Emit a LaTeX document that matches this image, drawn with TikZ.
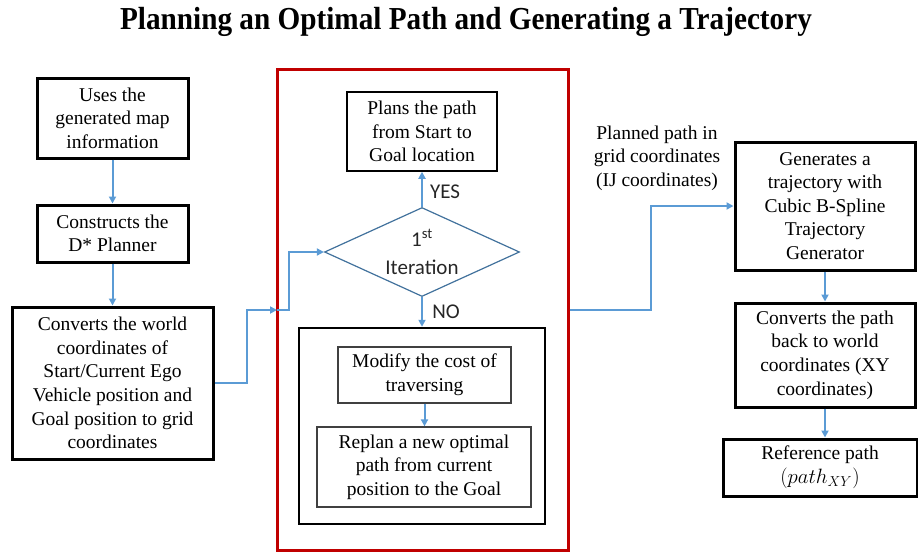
\documentclass[tikz,border=0pt]{standalone}
\usepackage{fontspec}
\setmainfont{Liberation Serif}
\newfontfamily\labelfont{Carlito}
\usetikzlibrary{arrows.meta,shapes.geometric}
\definecolor{flowblue}{HTML}{5B9BD5}
\definecolor{diablue}{HTML}{41719C}
\definecolor{framered}{HTML}{C00000}
\definecolor{innergrey}{HTML}{404040}
\begin{document}
\begin{tikzpicture}[x=1pt,y=-1pt,
  txt/.style={font=\rmfamily\fontsize{19.5}{23.6}\selectfont, align=center, inner sep=0pt},
  thickbox/.style={txt, draw=black, line width=3pt, rectangle},
  thinbox/.style={txt, draw=black, line width=1.5pt, rectangle},
  greybox/.style={txt, draw=innergrey, line width=1.3pt, rectangle},
  arr/.style={draw=flowblue, line width=2pt, -{Triangle[length=7pt,width=7pt]}},
  branch/.style={font=\labelfont\fontsize{21}{24}\selectfont, inner sep=0pt, text=black!85}]
\useasboundingbox (0,0) rectangle (918,552);

% title
\node[font=\rmfamily\fontsize{32}{36}\selectfont\bfseries, inner sep=0pt] (title) at (466,22)
  {\scalebox{0.913}[1]{Planning an Optimal Path and Generating a Trajectory}};

% left column
\node[thickbox, minimum width=151, minimum height=80] (A) at (112.5,118)
  {Uses the\\generated map\\information};
\node[thickbox, minimum width=151, minimum height=57] (B) at (112.5,233.5)
  {Constructs the\\D* Planner};
\node[thickbox, minimum width=201, minimum height=152] (C) at (112.5,383)
  {Converts the world\\coordinates of\\Start/Current Ego\\Vehicle position and\\Goal position to grid\\coordinates};

% planner frame
\node[draw=framered, line width=3pt, minimum width=291, minimum height=481, inner sep=0pt] (red) at (422.5,309.5) {};
\node[thinbox, minimum width=150, minimum height=79] (plans) at (422,131.5)
  {Plans the path\\from Start to\\Goal location};
\node[diamond, draw=diablue, line width=1.2pt, minimum width=195, minimum height=89, aspect=2.19,
      inner sep=0pt, align=center, font=\labelfont\fontsize{21}{28}\selectfont, text=black!85] (dia) at (422,252)
  {1\textsuperscript{st}\\Iteration};
\node[draw=black, line width=2.5pt, minimum width=246, minimum height=196, inner sep=0pt] (loop) at (422,426) {};
\node[greybox, minimum width=173, minimum height=56] (mod) at (424.5,375)
  {Modify the cost of\\traversing};
\node[greybox, minimum width=214, minimum height=80] (rep) at (424,467)
  {Replan a new optimal\\path from current\\position to the Goal};
\node[branch] (yes) at (445,192) {YES};
\node[branch] (no) at (446,312) {NO};

% right column
\node[txt] (plannedlbl) at (657,158)
  {Planned path in\\grid coordinates\\(IJ coordinates)};
\node[thickbox, minimum width=180, minimum height=128] (gen) at (825,206)
  {Generates a\\trajectory with\\Cubic B-Spline\\Trajectory\\Generator};
\node[thickbox, minimum width=180, minimum height=104] (conv) at (825,355)
  {Converts the path\\back to world\\coordinates (XY\\coordinates)};
\node[thickbox, minimum width=194, minimum height=57] (ref) at (820,467.5)
  {Reference path\\$(path_{XY})$};

% connectors
\coordinate (redin) at (277,310);
\draw[arr] (A.south) -- (B.north);
\draw[arr] (B.south) -- (C.north);
\draw[arr] (C.east) -- ++(32,0) |- (redin);
\draw[arr] (redin) -- ++(12,0) |- (dia.west);
\draw[arr] (dia.north) -- (plans.south);
\draw[arr] (dia.south) -- (loop.north);
\draw[arr] (mod.south) -- (mod.south |- rep.north);
\draw[arr] (red.east |- redin) -- (651,310) |- (gen.west);
\draw[arr] (gen.south) -- (conv.north);
\draw[arr] (conv.south) -- (conv.south |- ref.north);
\end{tikzpicture}
\end{document}
